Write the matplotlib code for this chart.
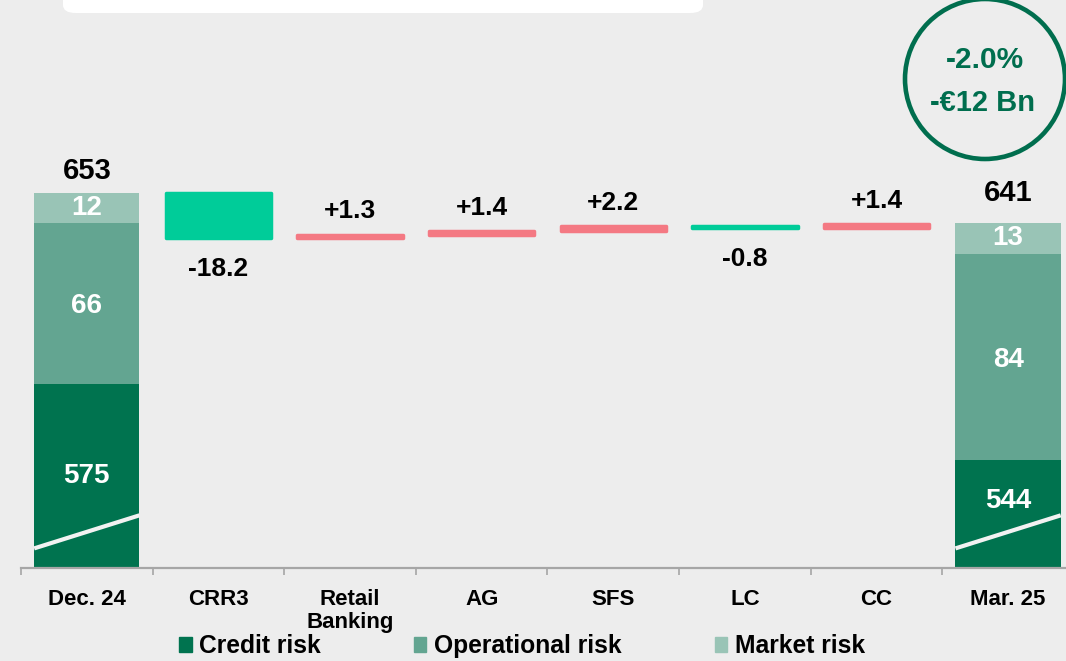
import matplotlib
matplotlib.use("Agg")
from matplotlib import pyplot as plt
from matplotlib.patches import Patch, Circle, FancyBboxPatch
import numpy as np

plt.rcParams['font.family'] = ['Liberation Sans', 'DejaVu Sans']
plt.rcParams['font.weight'] = 'bold'

# RWA bridge, EUR bn
categories = ["Dec. 24", "CRR3", "Retail\nBanking", "AG", "SFS", "LC", "CC", "Mar. 25"]
credit = [575, 544]
operational = [66, 84]
market = [12, 13]
totals = [653, 641]
deltas = [-18.2, 1.3, 1.4, 2.2, -0.8, 1.4]
delta_labels = ["-18.2", "+1.3", "+1.4", "+2.2", "-0.8", "+1.4"]
change_pct = "-2.0%"
change_abs = "-€12 Bn"

c_credit = "#00734F"
c_oper = "#63A591"
c_market = "#99C4B6"
c_down = "#00CC99"
c_up = "#F47983"
c_dark = "#006E4E"
bg = "#EDEDED"

fig = plt.figure(figsize=(10.66, 6.61), dpi=100, facecolor=bg)
ax = fig.add_axes([21/1066, 1-568/661, 1-21/1066, 568/661])
ax.set_facecolor(bg)
ax.set_xlim(-0.5, 7.44)
ax.set_ylim(500, 500 + 568/2.45)

w = 0.8
x = np.arange(len(categories))
ends = [0, 7]
credit_shift = [0, 5.3]   # keep the 544 label clear of the break marker
inner_fs = 20

# stacked totals at both ends
for i, xi in enumerate(ends):
    ax.bar(xi, credit[i], w, bottom=0, color=c_credit, zorder=2)
    ax.bar(xi, operational[i], w, bottom=credit[i], color=c_oper, zorder=2)
    ax.bar(xi, market[i], w, bottom=credit[i] + operational[i], color=c_market, zorder=2)
    # axis break marker
    ax.plot([xi - w/2, xi + w/2], [508, 521.5], color="#F2F2F2", lw=3, zorder=3,
            solid_capstyle="butt")
    ax.text(xi, credit[i] + operational[i] + market[i] / 2, str(market[i]),
            ha="center", va="center", color="white", fontsize=inner_fs)
    ax.text(xi, credit[i] + operational[i] / 2 - 1, str(operational[i]),
            ha="center", va="center", color="white", fontsize=inner_fs)
    ax.text(xi, (credit[i] + 500) / 2 + credit_shift[i], str(credit[i]),
            ha="center", va="center", color="white", fontsize=inner_fs)

ax.annotate(str(totals[0]), (0, totals[0]), xytext=(0, 6), textcoords="offset points",
            ha="center", va="bottom", fontsize=21, color="black")
ax.annotate(str(totals[1]), (7, totals[1]), xytext=(0, 11), textcoords="offset points",
            ha="center", va="bottom", fontsize=21, color="black")

# bridge steps
level = totals[0]
for k, d in enumerate(deltas):
    xi = k + 1
    col = c_up if d > 0 else c_down
    bottom = level if d > 0 else level + d
    ax.bar(xi, abs(d), w, bottom=bottom, color=col, edgecolor=col, lw=2.5,
           joinstyle="round", zorder=2)
    if d > 0:
        ax.annotate(delta_labels[k], (xi, bottom + abs(d)), xytext=(0, 8),
                    textcoords="offset points", ha="center", va="bottom", fontsize=19)
    else:
        ax.annotate(delta_labels[k], (xi, bottom), xytext=(0, -14),
                    textcoords="offset points", ha="center", va="top", fontsize=19)
    level += d

for s in ["left", "right", "top"]:
    ax.spines[s].set_visible(False)
ax.spines["bottom"].set_color("#A6A6A6")
ax.spines["bottom"].set_linewidth(1.6)
ax.set_yticks([])
ax.set_xticks(x)
ax.set_xticklabels(categories, fontsize=16, linespacing=1.15)
ax.tick_params(axis="x", which="major", length=0, pad=15)
ax.set_xticks(np.arange(-0.5, 7, 1), minor=True)
ax.tick_params(axis="x", which="minor", length=5, width=1.2, color="#A6A6A6", direction="out")

# change badge
fig.patches.append(Circle((985, 661 - 79), 80, transform=None, fill=False,
                          edgecolor=c_dark, lw=3.3, figure=fig))
fig.text(985/1066, 1 - 60/661, change_pct, ha="center", va="center", color=c_dark, fontsize=21.5)
fig.text(983/1066, 1 - 103/661, change_abs, ha="center", va="center", color=c_dark, fontsize=21)

# white panel at the top
fig.patches.append(FancyBboxPatch((63/1066, 1 - 13/661), 640/1066, 40/661,
                                  boxstyle="round,pad=0,rounding_size=0.012",
                                  transform=fig.transFigure, facecolor="white",
                                  edgecolor="none", figure=fig))

handles = [Patch(color=c_credit, label="Credit risk"),
           Patch(color=c_oper, label="Operational risk"),
           Patch(color=c_market, label="Market risk")]
fig.legend(handles=handles, loc="center", bbox_to_anchor=(522/1066, 1 - 646/661), ncol=3,
           frameon=False, fontsize=17.7, handlelength=0.5, handleheight=0.6,
           handletextpad=0.3, columnspacing=3.8, borderaxespad=0, borderpad=0)

fig.savefig("out.png", dpi=100, facecolor=bg)
